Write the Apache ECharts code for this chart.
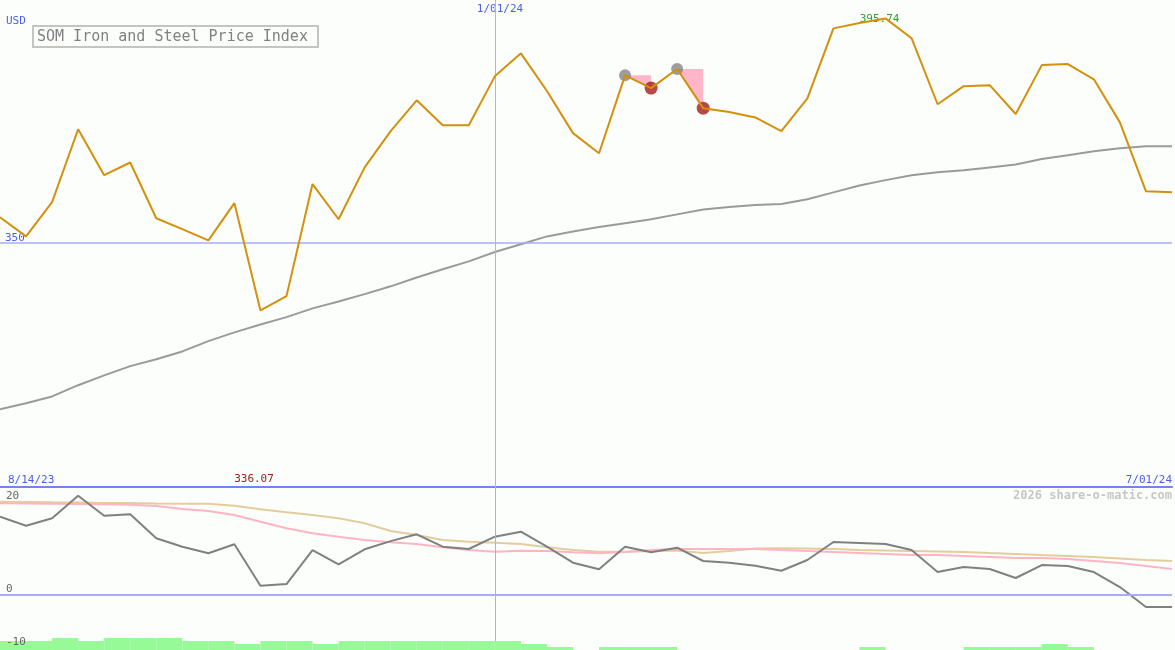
<!DOCTYPE html>
<html><head><meta charset="utf-8">
<script src="https://cdn.jsdelivr.net/npm/echarts@6/dist/echarts.min.js"></script>
<style>html,body{margin:0;padding:0;background:#fbfefb}#c{width:1175px;height:650px}</style>
</head><body><div id="c"></div><script>
const dates = ['8/21/23','8/28/23','9/04/23','9/11/23','9/18/23','9/25/23','10/02/23','10/09/23','10/16/23','10/23/23','10/30/23','11/06/23','11/13/23','11/20/23','11/27/23','12/04/23','12/11/23','12/18/23','12/25/23','1/01/24','1/08/24','1/15/24','1/22/24','1/29/24','2/05/24','2/12/24','2/19/24','2/26/24','3/04/24','3/11/24','3/18/24','3/25/24','4/01/24','4/08/24','4/15/24','4/22/24','4/29/24','5/06/24','5/13/24','5/20/24','5/27/24','6/03/24','6/10/24','6/17/24','6/24/24','7/01/24'];
const price = [355.1,351.2,358.2,373.1,363.7,366.3,354.9,352.7,350.4,358.0,336.07,339.0,361.9,354.7,365.3,372.7,379.0,373.9,373.9,383.9,388.6,380.9,372.3,368.2,384.1,381.5,385.4,377.4,376.6,375.5,372.7,379.4,393.7,394.8,395.74,391.7,378.2,381.9,382.1,376.2,386.2,386.4,383.3,374.5,360.4,360.2];
const movingAvg = [315.9,317.1,318.5,320.8,322.8,324.7,326.1,327.7,329.8,331.6,333.2,334.7,336.5,337.9,339.4,341.0,342.8,344.5,346.1,348.0,349.6,351.2,352.2,353.1,353.9,354.7,355.7,356.7,357.2,357.6,357.8,358.8,360.2,361.6,362.7,363.7,364.3,364.7,365.3,365.9,367.0,367.8,368.6,369.2,369.6,369.6];
const oscGrey = [15.98,14.14,15.65,20.27,16.18,16.47,11.57,9.86,8.51,10.35,1.9,2.24,9.18,6.27,9.33,11.0,12.39,9.86,9.39,11.9,12.92,9.86,6.59,5.24,9.86,8.71,9.65,6.94,6.59,5.98,4.96,7.14,10.82,10.61,10.41,9.18,4.69,5.71,5.31,3.47,6.12,5.92,4.69,1.63,-2.45,-2.45];
const oscPink = [18.71,18.67,18.63,18.57,18.5,18.43,18.16,17.55,17.14,16.33,14.96,13.61,12.59,11.9,11.22,10.76,10.41,9.73,9.18,8.84,9.04,8.98,8.71,8.51,8.78,9.18,9.39,9.39,9.39,9.39,9.18,8.98,8.78,8.57,8.37,8.16,8.16,7.96,7.76,7.55,7.55,7.35,6.94,6.53,5.92,5.31];
const oscTan = [19.04,18.98,18.92,18.88,18.78,18.78,18.67,18.63,18.63,18.22,17.49,16.88,16.33,15.65,14.63,13.06,12.24,11.22,10.88,10.67,10.41,9.73,9.18,8.84,8.84,8.98,9.08,8.57,8.98,9.49,9.53,9.49,9.39,9.18,9.08,8.98,8.88,8.78,8.57,8.37,8.16,7.96,7.76,7.45,7.14,6.94];
const greenBars = [3,3,4,3,4,4,4,3,3,2,3,3,2,3,3,3,3,3,3,3,2,1,0,1,1,1,0,0,0,0,0,0,0,1,0,0,0,1,1,1,2,1,0,0,0];
const upMarks = [24, 26];
const downMarks = [25, 27];
const triangles = [[24, 25], [26, 27]];
const refLevel = 350;
const lowerTicks = ['20', '0', '-10'];
const markDate = '1/01/24';
const rangeStart = '8/14/23';
const rangeEnd = '7/01/24';

const blue = '#4a5cf0';
const mono = 'DejaVu Sans Mono, monospace';
const chart = echarts.init(document.getElementById('c'), null, {renderer: 'canvas'});
const minVal = Math.min(...price);

chart.setOption({
  animation: false,
  backgroundColor: '#fbfefb',
  grid: [
    {left: 0, right: 3, top: 0, height: 487},
    {left: 0, right: 3, top: 487, height: 163}
  ],
  xAxis: [
    {type: 'category', gridIndex: 0, data: dates, boundaryGap: false,
     axisLine: {show: true, lineStyle: {color: '#7484ee', width: 2}}, axisTick: {show: false}, axisLabel: {show: false}, splitLine: {show: false}},
    {type: 'category', gridIndex: 1, data: dates, boundaryGap: false, show: false},
    {type: 'category', gridIndex: 1, data: dates.slice(0, greenBars.length), boundaryGap: true, show: false}
  ],
  yAxis: [
    {type: 'value', gridIndex: 0, min: 300, max: 399.5, show: false, splitLine: {show: false}},
    {type: 'value', gridIndex: 1, min: -11.22, max: 22.04, show: false, splitLine: {show: false}},
    {type: 'value', gridIndex: 1, min: 0, max: 54.33, show: false, splitLine: {show: false}}
  ],
  series: [
    {type: 'bar', xAxisIndex: 2, yAxisIndex: 2, data: greenBars, barWidth: '100%', barGap: '0%',
     itemStyle: {color: '#96fa96'}, silent: true, z: 5},
    {type: 'custom', xAxisIndex: 0, yAxisIndex: 0, data: triangles, encode: {x: 0, y: 1}, z: 2, silent: true,
     renderItem: function (params, api) {
       const a = api.value(0), b = api.value(1);
       const p1 = api.coord([a, price[a]]);
       const p2 = api.coord([b, price[a]]);
       const p3 = api.coord([b, price[b]]);
       return {type: 'polygon', shape: {points: [p1, p2, p3]}, style: {fill: '#ffb6c8'}};
     }},
    {type: 'scatter', xAxisIndex: 0, yAxisIndex: 0, data: upMarks.map(i => [i, price[i]]), symbolSize: 12,
     itemStyle: {color: '#858585'}, z: 3, silent: true},
    {type: 'scatter', xAxisIndex: 0, yAxisIndex: 0, data: downMarks.map(i => [i, price[i]]), symbolSize: 13,
     itemStyle: {color: '#a51c1c'}, z: 3, silent: true},
    {type: 'line', xAxisIndex: 0, yAxisIndex: 0, data: movingAvg, showSymbol: false, z: 4,
     lineStyle: {color: '#9a9a9a', width: 2}},
    {type: 'line', xAxisIndex: 0, yAxisIndex: 0, data: price, showSymbol: false, z: 6,
     lineStyle: {color: '#d4900c', width: 2},
     markLine: {symbol: 'none', silent: true, label: {show: false},
       data: [
         {yAxis: refLevel, lineStyle: {color: '#a6aef2', width: 1.5, type: 'solid'}},
         {xAxis: markDate, lineStyle: {color: '#b2b6d6', width: 1, type: 'solid'}}
       ]},
     markPoint: {symbol: 'circle', symbolSize: 1, itemStyle: {color: 'rgba(0,0,0,0)'},
       data: [{type: 'max'}],
       label: {show: true, position: 'inside', offset: [-6, 1], formatter: p => p.value.toFixed(2),
         color: '#2ea02e', fontFamily: mono, fontSize: 11}}},
    {type: 'line', xAxisIndex: 1, yAxisIndex: 1, data: oscTan, showSymbol: false, z: 3,
     lineStyle: {color: '#e4cc9c', width: 2},
     markLine: {symbol: 'none', silent: true, label: {show: false},
       data: [
         {yAxis: 0, lineStyle: {color: '#a6aef2', width: 2, type: 'solid'}},
         {xAxis: markDate, lineStyle: {color: '#a8aef0', width: 1, type: 'solid'}}
       ]}},
    {type: 'line', xAxisIndex: 1, yAxisIndex: 1, data: oscPink, showSymbol: false, z: 3,
     lineStyle: {color: '#ffb4c4', width: 2}},
    {type: 'line', xAxisIndex: 1, yAxisIndex: 1, data: oscGrey, showSymbol: false, z: 4,
     lineStyle: {color: '#808080', width: 2}}
  ],
  graphic: [
    {type: 'text', left: 6, top: 16, style: {text: 'USD', fill: blue, font: '11px ' + mono}},
    {type: 'rect', shape: {x: 33, y: 26, width: 285, height: 21}, style: {fill: '#fbfefb', stroke: '#c4c4c4', lineWidth: 2}, z: 10},
    {type: 'text', x: 37, y: 37, style: {text: 'SOM Iron and Steel Price Index', fill: '#808080', font: '15px ' + mono, textVerticalAlign: 'middle'}, z: 11},
    {type: 'text', x: 500, y: 9, style: {text: markDate, fill: blue, font: '11px ' + mono, textAlign: 'center', textVerticalAlign: 'middle'}},
    {type: 'text', x: 5, y: 238, style: {text: String(refLevel), fill: blue, font: '11px ' + mono, textVerticalAlign: 'middle'}},
    {type: 'text', x: 8, y: 480, style: {text: rangeStart, fill: blue, font: '11px ' + mono, textVerticalAlign: 'middle'}},
    {type: 'text', x: 254, y: 479, style: {text: minVal.toFixed(2), fill: '#a02020', font: '11px ' + mono, textAlign: 'center', textVerticalAlign: 'middle'}},
    {type: 'text', x: 1172, y: 480, style: {text: rangeEnd, fill: blue, font: '11px ' + mono, textAlign: 'right', textVerticalAlign: 'middle'}},
    {type: 'text', x: 1172, y: 496, style: {text: '2026 share-o-matic.com', fill: '#c6c6c6', font: 'bold 12px ' + mono, textAlign: 'right', textVerticalAlign: 'middle'}},
    {type: 'text', x: 6, y: 496, style: {text: lowerTicks[0], fill: '#666', font: '11px ' + mono, textVerticalAlign: 'middle'}},
    {type: 'text', x: 6, y: 589, style: {text: lowerTicks[1], fill: '#666', font: '11px ' + mono, textVerticalAlign: 'middle'}},
    {type: 'text', x: 6, y: 642, style: {text: lowerTicks[2], fill: '#666', font: '11px ' + mono, textVerticalAlign: 'middle'}, z: 20}
  ]
});
</script></body></html>
